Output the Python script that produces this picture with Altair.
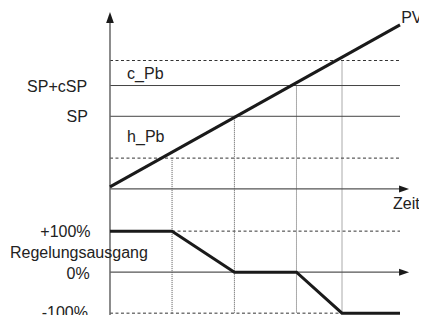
import altair as alt
import pandas as pd

# ---- diagram data (time in arbitrary units, levels in diagram units) ----
t_start, t_end = 0, 100
t_cross = [21.4, 42.9, 64.3, 80.0]          # instants where PV crosses band limits
cross_top = [278, 380, 455, 516]             # level at which each drop line starts

# PV-side levels
time_axis_level = 203
h_pb_low = 278
sp_level = 380
sp_csp_level = 455
c_pb_high = 516
pv_t = [0, 100]
pv_v = [208, 603]

# controller output (%)
out_t = [0, 21.4, 42.9, 64.3, 80.0, 100]
out_v = [100, 100, 0, 0, -100, -100]

# dashed band limits
dash_v = [c_pb_high, h_pb_low, 100, -100]
dash_t1 = [0, 0, 21.4, 0]
dash_t2 = [100, 100, 100, 80.0]

# thin solid lines (SP, SP+cSP) and the two time axes
solid_v = [sp_csp_level, sp_level]
axis_v = [time_axis_level, 0]

# labels
right_labels = ["SP+cSP", "SP", "+100%", "0%", "-100%"]
right_t = [-7.9, -7.6, -6.7, -7.0, -7.6]
right_v = [440, 367, 86, -17, -112]
left_labels = ["c_Pb", "h_Pb", "PV", "Zeit", "Regelungsausgang"]
left_t = [5.9, 5.9, 100.4, 97.6, -34.5]
left_v = [472, 317, 607, 153, 35]

# ---- scales ----
xs = alt.Scale(domain=[-35.17, 106.55], nice=False, zero=False)
ys = alt.Scale(domain=[-124, 644], nice=False, zero=False)

def X(f):
    return alt.X(f, type="quantitative", scale=xs, axis=None)

def Y(f):
    return alt.Y(f, type="quantitative", scale=ys, axis=None)

FONT = "Liberation Sans"

dashed = alt.Chart(pd.DataFrame({"t": dash_t1, "t2": dash_t2, "v": dash_v})).mark_rule(
    color="#333333", strokeWidth=1, strokeDash=[3, 2.5]
).encode(x=X("t"), x2="t2", y=Y("v"))

dotted = alt.Chart(pd.DataFrame({"t": t_cross, "v": cross_top, "v2": [-100] * 4})).mark_rule(
    color="#555555", strokeWidth=1, strokeDash=[1, 1]
).encode(x=X("t"), y=Y("v"), y2="v2")

solid = alt.Chart(pd.DataFrame({"t": [0, 0], "t2": [100, 100], "v": solid_v})).mark_rule(
    color="#444444", strokeWidth=1
).encode(x=X("t"), x2="t2", y=Y("v"))

axes_h = alt.Chart(pd.DataFrame({"t": [0, 0], "t2": [101, 101], "v": axis_v})).mark_rule(
    color="#555555", strokeWidth=1.3
).encode(x=X("t"), x2="t2", y=Y("v"))

axis_v_line = alt.Chart(pd.DataFrame({"t": [0], "v": [-124], "v2": [610]})).mark_rule(
    color="#666666", strokeWidth=1.5
).encode(x=X("t"), y=Y("v"), y2="v2")

arrows_h = alt.Chart(pd.DataFrame({"t": [101.4, 101.4], "v": axis_v})).mark_point(
    shape="M 1 0 L -1 0.7 L -1 -0.7 Z", size=100, filled=True, color="#1a1a1a", opacity=1
).encode(x=X("t"), y=Y("v"))

arrow_v = alt.Chart(pd.DataFrame({"t": [0], "v": [621]})).mark_point(
    shape="M 0 -1 L 0.7 1 L -0.7 1 Z", size=121, filled=True, color="#1a1a1a", opacity=1
).encode(x=X("t"), y=Y("v"))

pv_line = alt.Chart(pd.DataFrame({"t": pv_t, "v": pv_v})).mark_line(
    color="#1a1a1a", strokeWidth=3
).encode(x=X("t"), y=Y("v"))

out_line = alt.Chart(pd.DataFrame({"t": out_t, "v": out_v})).mark_line(
    color="#1a1a1a", strokeWidth=3
).encode(x=X("t"), y=Y("v"))

txt_right = alt.Chart(pd.DataFrame({"t": right_t, "v": right_v, "label": right_labels})).mark_text(
    align="right", baseline="alphabetic", font=FONT, fontSize=16, color="#222222"
).encode(x=X("t"), y=Y("v"), text="label:N")

txt_left = alt.Chart(pd.DataFrame({"t": left_t, "v": left_v, "label": left_labels})).mark_text(
    align="left", baseline="alphabetic", font=FONT, fontSize=16, color="#222222"
).encode(x=X("t"), y=Y("v"), text="label:N")

chart = alt.layer(
    dashed, dotted, solid, axes_h, axis_v_line, arrows_h, arrow_v,
    pv_line, out_line, txt_right, txt_left
).properties(
    width=411, height=315, padding=0, background="white",
    autosize=alt.AutoSizeParams(type="none")
).configure_view(stroke=None)

chart.save("out.html", embed_options={"renderer": "svg", "actions": False})
